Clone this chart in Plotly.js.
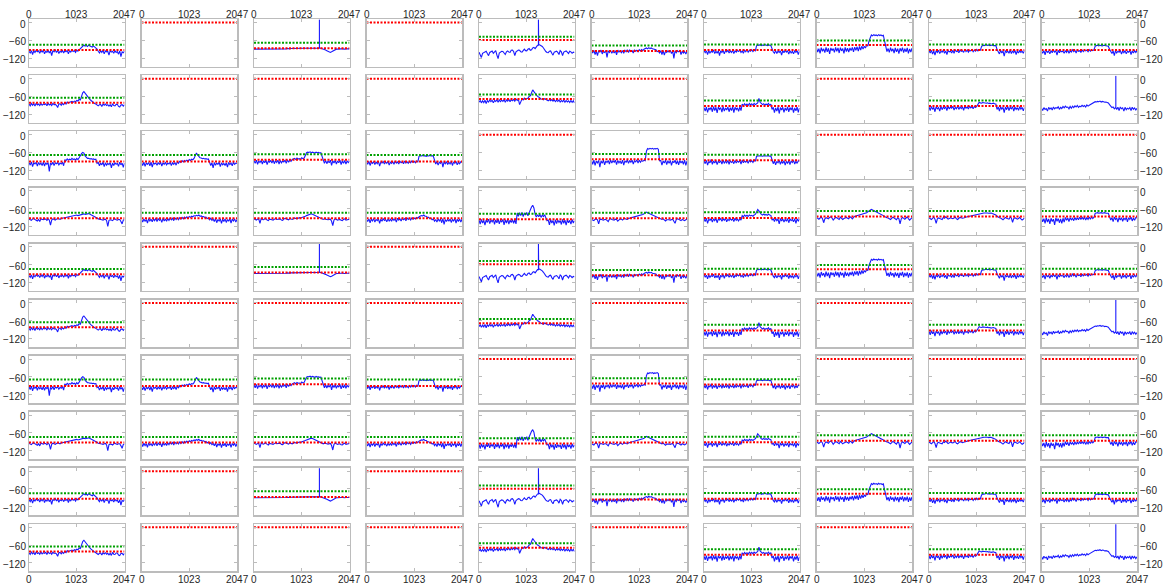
<!DOCTYPE html>
<html>
<head>
<meta charset="utf-8">
<script src="https://cdn.plot.ly/plotly-3.0.1.min.js"></script>
<style>html,body{margin:0;padding:0;background:#fff;}#plot{width:1165px;height:588px;}</style>
</head>
<body>
<div id="plot"></div>
<script>
// ---- sample grid (bins 0..2047) ----
const N_SAMPLES = 81;
const xTicks = [0, 1023, 2047];
const xTickLabels = ['0', '1023', '2047'];
const yTicks = [0, -60, -120];
const yTickLabels = ['0', '\u221260', '\u2212120'];

// ---- row types, repeating down the grid ----
const rowPattern = ['A','B','C','D','A','B','C','D','A','B'];

// ---- blue spectra (dB) ----
const A1 = [-97,-103,-95,-108,-96,-101,-94,-99,-96,-104, -95,-100,-93,-106,-97,-101,-94,-103,-96,-112, -95,-99,-93,-101,-94,-105,-97,-100,-94,-103, -96,-99,-94,-106,-95,-100,-93,-98,-95,-101, -93,-97,-92,-88,-82,-79,-76,-80,-78,-81, -76,-79,-80,-83,-79,-82,-84,-90,-97,-103, -95,-101,-94,-106,-96,-99,-97,-110,-95,-100, -97,-104,-95,-101,-98,-107,-96,-115,-99,-102, -97];
const A3 = [-90,-90,-89,-90,-91,-90,-90,-89,-89,-90, -90,-91,-90,-89,-89,-90,-90,-89,-90,-91, -90,-89,-89,-89,-90,-90,-89,-89,-88,-89, -89,-88,-88,-88,-88,-87,-88,-87,-87,-87, -87,-87,-87,-86,-87,-86,-87,-86,-86,-86, -86,-86,-86,-86,-86,-86,-87,-88,-89,-91, -93,-95,-97,-99,-101,-99,-96,-93,-91,-90, -90,-89,-90,-89,-89,-90,-90,-89,-90,-89, -89];
const A5 = [-100,-108,-118,-104,-102,-99,-97,-105,-112,-101, -99,-96,-104,-97,-95,-110,-122,-103,-100,-97, -98,-104,-108,-99,-96,-100,-101,-94,-93,-98, -112,-99,-97,-93,-94,-99,-100,-93,-90,-95, -96,-90,-88,-94,-92,-86,-84,-88,-80,-77, -74,-76,-78,-81,-86,-94,-98,-101,-102,-97, -96,-104,-110,-100,-99,-97,-101,-108,-95,-99, -112,-100,-98,-96,-100,-105,-97,-99,-104,-100, -101];
const A6 = [-96,-103,-94,-108,-97,-112,-95,-100,-93,-106, -98,-101,-95,-118,-96,-101,-94,-104,-96,-103, -95,-109,-93,-100,-96,-102,-95,-104,-94,-99, -92,-101,-93,-98,-95,-103,-92,-97,-94,-99, -92,-96,-91,-95,-90,-88,-86,-89,-85,-88, -86,-89,-90,-93,-92,-98,-97,-103,-95,-108, -95,-110,-97,-101,-96,-100,-94,-105,-96,-121, -96,-102,-95,-99,-95,-108,-97,-103,-98,-106, -98];
const A7 = [-94,-102,-96,-108,-95,-103,-97,-100,-93,-105, -97,-104,-95,-112,-96,-101,-94,-106,-95,-99, -94,-103,-96,-101,-94,-105,-96,-100,-94,-98, -93,-101,-96,-104,-93,-99,-92,-100,-94,-97, -92,-98,-93,-96,-79,-76,-77,-75,-78,-76, -77,-75,-76,-78,-77,-76,-78,-90,-99,-104, -95,-105,-97,-101,-96,-110,-95,-102,-94,-100, -96,-107,-95,-103,-97,-106,-96,-101,-95,-108, -97];
const A8 = [-86,-100,-88,-104,-85,-97,-89,-102,-84,-99, -87,-106,-86,-95,-88,-101,-84,-97,-86,-103, -85,-96,-88,-104,-84,-98,-87,-100,-86,-95, -84,-99,-83,-94,-82,-97,-81,-93,-80,-90, -80,-86,-76,-80,-62,-48,-42,-45,-41,-44, -42,-45,-41,-44,-42,-45,-43,-62,-84,-98, -88,-101,-85,-97,-89,-103,-86,-99,-88,-105, -87,-97,-85,-102,-88,-99,-86,-104,-89,-100, -87];
const A9 = [-95,-103,-94,-107,-96,-110,-95,-101,-94,-105, -97,-100,-93,-104,-96,-108,-95,-99,-97,-103, -94,-104,-92,-98,-96,-102,-93,-97,-95,-101, -91,-98,-93,-100,-94,-96,-92,-99,-93,-97, -91,-96,-92,-94,-81,-77,-78,-76,-75,-77, -76,-78,-77,-76,-78,-77,-78,-91,-100,-106, -94,-103,-96,-114,-95,-101,-97,-104,-93,-105, -96,-102,-94,-108,-96,-103,-95,-101,-97,-104, -95];
const A10 = [-96,-104,-95,-109,-94,-101,-97,-106,-95,-102, -93,-100,-96,-110,-94,-102,-95,-99,-97,-104, -95,-101,-93,-104,-96,-100,-92,-98,-94,-103, -93,-97,-95,-101,-92,-98,-94,-96,-93,-99, -92,-97,-93,-95,-92,-80,-78,-77,-79,-77, -78,-79,-77,-78,-79,-78,-80,-90,-101,-105, -96,-112,-95,-103,-97,-100,-94,-107,-96,-102, -95,-106,-97,-100,-94,-108,-96,-103,-95,-101, -95];

const B1 = [-86,-92,-84,-90,-85,-93,-83,-89,-86,-91, -84,-90,-86,-88,-85,-92,-83,-89,-86,-91, -84,-88,-87,-90,-98,-86,-85,-90,-84,-88, -82,-86,-79,-82,-80,-78,-77,-80,-76,-78, -74,-76,-70,-72,-56,-48,-44,-50,-52,-58, -64,-70,-74,-78,-82,-84,-86,-90,-92,-88, -87,-94,-86,-90,-86,-91,-88,-93,-88,-95, -85,-91,-92,-87,-87,-94,-96,-89,-88,-93, -88];
const B5 = [-80,-74,-82,-75,-81,-73,-84,-74,-79,-72, -78,-73,-82,-74,-77,-71,-80,-72,-78,-73, -77,-71,-80,-72,-76,-70,-78,-71,-75,-70, -76,-69,-74,-70,-88,-78,-69,-72,-66,-70, -68,-66,-60,-58,-48,-38,-44,-50,-56,-60, -62,-66,-69,-70,-72,-68,-70,-72,-75,-71, -75,-71,-76,-72,-78,-73,-77,-72,-79,-74, -78,-73,-80,-74,-79,-75,-81,-74,-80,-75, -82];
const B7 = [-98,-110,-96,-114,-99,-105,-97,-112,-95,-108, -97,-116,-96,-104,-98,-113,-95,-110,-99,-106, -96,-112,-98,-108,-95,-115,-97,-105,-99,-111, -96,-108,-86,-92,-85,-90,-86,-91,-84,-89, -85,-90,-84,-88,-85,-82,-67,-80,-84,-88, -85,-90,-86,-89,-84,-90,-86,-104,-97,-115, -99,-110,-96,-118,-98,-106,-97,-114,-99,-108, -96,-112,-98,-106,-97,-115,-99,-109,-96,-114, -99];
const B9 = [-96,-108,-94,-104,-97,-112,-95,-102,-98,-110, -94,-105,-96,-101,-95,-108,-93,-103,-96,-100, -94,-106,-97,-102,-93,-104,-96,-101,-95,-107, -94,-100,-96,-103,-93,-99,-95,-102,-94,-98, -94,-85,-80,-82,-83,-81,-82,-84,-83,-82, -84,-83,-85,-84,-83,-85,-86,-104,-96,-110, -95,-103,-97,-115,-96,-105,-94,-108,-97,-102, -95,-110,-96,-104,-98,-107,-95,-103,-97,-109, -97];
const B10 = [-100,-108,-98,-104,-101,-110,-97,-103,-99,-106, -96,-102,-98,-100,-95,-104,-97,-101,-94,-99, -93,-97,-96,-102,-94,-100,-93,-98,-92,-96, -91,-97,-93,-95,-90,-94,-91,-96,-89,-93, -90,-88,-86,-82,-80,-78,-79,-77,-78,-76, -79,-77,-78,-80,-79,-81,-82,-88,-94,-98, -96,-102,-98,-104,-97,-108,-96,-102,-99,-110, -97,-105,-100,-103,-98,-108,-97,-104,-99,-106, -100];

const C1 = [-94,-103,-92,-108,-95,-99,-93,-106,-94,-101, -96,-104,-93,-106,-95,-100,-94,-124,-96,-101, -93,-104,-95,-98,-94,-102,-96,-99,-93,-105, -84,-88,-82,-86,-83,-85,-80,-84,-82,-86, -80,-84,-78,-70,-64,-60,-62,-72,-76,-80, -80,-82,-81,-83,-82,-84,-83,-97,-94,-105, -96,-102,-93,-108,-95,-103,-97,-101,-94,-112, -96,-104,-95,-100,-97,-107,-93,-102,-96,-110, -96];
const C2 = [-95,-104,-93,-107,-96,-100,-94,-105,-93,-110, -95,-99,-96,-103,-94,-101,-93,-106,-95,-100, -94,-102,-96,-99,-93,-104,-95,-100,-94,-103, -92,-97,-90,-94,-88,-92,-87,-90,-86,-89, -84,-87,-83,-85,-80,-72,-62,-68,-74,-78, -79,-81,-80,-82,-81,-83,-82,-96,-104,-95, -112,-94,-103,-96,-100,-93,-108,-95,-102,-97, -104,-95,-110,-94,-101,-96,-105,-93,-100,-96, -97];
const C3 = [-88,-97,-86,-100,-89,-94,-87,-99,-88,-95, -86,-101,-89,-93,-87,-96,-85,-98,-88,-94, -86,-99,-87,-95,-89,-92,-86,-97,-85,-93, -86,-90,-84,-82,-80,-84,-79,-82,-81,-83, -78,-81,-79,-70,-61,-59,-60,-58,-61,-59, -60,-62,-59,-61,-60,-62,-61,-76,-88,-97, -87,-98,-89,-95,-86,-104,-88,-96,-87,-99, -89,-95,-86,-101,-88,-97,-87,-99,-89,-94, -89];
const C4 = [-92,-100,-90,-104,-93,-97,-91,-101,-92,-98, -90,-106,-93,-96,-91,-99,-92,-97,-90,-103, -93,-97,-91,-100,-89,-96,-92,-99,-90,-95, -91,-98,-89,-96,-92,-97,-90,-95,-89,-94, -90,-95,-89,-92,-73,-71,-72,-70,-72,-71, -73,-71,-72,-70,-72,-71,-73,-90,-99,-91, -103,-93,-97,-90,-110,-92,-98,-91,-101,-93, -99,-91,-104,-92,-97,-90,-102,-93,-98,-91, -93];
const C6 = [-88,-100,-86,-104,-89,-95,-87,-110,-88,-97, -86,-102,-89,-94,-87,-99,-85,-96,-88,-93, -86,-101,-87,-95,-89,-98,-86,-103,-88,-94, -85,-97,-87,-93,-86,-99,-88,-92,-85,-96, -86,-93,-87,-90,-86,-88,-56,-47,-49,-46, -48,-46,-49,-47,-48,-46,-49,-88,-87,-103, -89,-96,-86,-101,-88,-97,-87,-104,-89,-95, -86,-99,-88,-102,-87,-96,-89,-100,-86,-104, -89];
const C7 = [-89,-98,-87,-103,-90,-95,-84,-100,-89,-96, -87,-101,-90,-94,-88,-99,-86,-97,-89,-95, -87,-100,-88,-94,-90,-98,-87,-96,-89,-93, -87,-99,-86,-95,-89,-93,-88,-97,-86,-92, -88,-94,-86,-90,-73,-72,-73,-71,-72,-73, -71,-72,-73,-72,-71,-73,-72,-85,-98,-88, -102,-90,-95,-87,-100,-89,-97,-88,-103,-90, -96,-88,-101,-89,-94,-87,-99,-90,-97,-88, -90];

const D1 = [-96,-98,-100,-95,-94,-97,-99,-102,-97,-104, -95,-97,-98,-96,-96,-100,-95,-99,-116,-99, -95,-97,-99,-96,-94,-95,-97,-94,-93,-91, -90,-89,-88,-87,-86,-85,-85,-84,-84,-83, -82,-84,-83,-81,-80,-79,-78,-80,-80,-78, -77,-79,-81,-83,-84,-86,-88,-92,-95,-97, -97,-98,-99,-97,-96,-101,-120,-100,-98,-99, -101,-97,-95,-98,-99,-97,-97,-104,-112,-99, -98];
const D2 = [-96,-106,-95,-103,-97,-109,-94,-102,-96,-105, -95,-101,-93,-104,-94,-100,-96,-107,-93,-102, -95,-103,-94,-100,-92,-98,-93,-101,-91,-97, -92,-98,-91,-96,-90,-95,-89,-93,-88,-92, -87,-90,-86,-88,-84,-86,-83,-85,-82,-86, -85,-88,-87,-90,-89,-94,-91,-98,-93,-100, -96,-104,-94,-108,-97,-102,-95,-110,-96,-104, -95,-107,-97,-103,-94,-109,-96,-102,-95,-106, -97];
const D3 = [-95,-98,-99,-96,-96,-110,-94,-97,-98,-95, -95,-99,-101,-96,-96,-98,-99,-96,-94,-97, -97,-95,-95,-99,-100,-96,-93,-95,-96,-98, -94,-96,-97,-95,-92,-94,-95,-93,-91,-92, -91,-89,-88,-86,-84,-82,-80,-78,-78,-79, -81,-84,-86,-89,-90,-93,-94,-96,-97,-95, -95,-97,-98,-96,-96,-103,-118,-99,-95,-97, -99,-98,-97,-100,-101,-97,-95,-99,-98,-96, -96];
const D4 = [-97,-104,-95,-108,-96,-102,-94,-106,-97,-101, -95,-110,-96,-103,-94,-100,-97,-105,-95,-102, -96,-103,-94,-100,-95,-106,-93,-99,-95,-102, -93,-98,-94,-101,-92,-97,-93,-99,-92,-96, -92,-95,-90,-93,-88,-86,-84,-85,-82,-86, -86,-90,-90,-94,-93,-98,-95,-103,-97,-106, -95,-102,-96,-108,-94,-114,-97,-104,-96,-103, -95,-107,-97,-102,-94,-109,-96,-104,-95,-106, -96];
const D5 = [-99,-113,-97,-109,-100,-116,-98,-107,-96,-111, -99,-105,-97,-114,-98,-108,-96,-112,-99,-106, -97,-115,-98,-109,-96,-113,-99,-107,-97,-110, -98,-112,-75,-86,-74,-84,-73,-87,-75,-82, -73,-85,-74,-62,-55,-49,-58,-80,-89,-81, -88,-80,-90,-82,-87,-81,-89,-101,-99,-115, -97,-109,-100,-117,-98,-111,-99,-107,-101,-114, -97,-110,-99,-116,-98,-108,-100,-113,-97,-109, -101];
const D6 = [-97,-99,-101,-96,-95,-98,-112,-97,-96,-98, -99,-97,-97,-100,-104,-96,-94,-97,-98,-99, -96,-97,-103,-98,-95,-96,-99,-95,-94,-96, -97,-94,-92,-91,-90,-89,-88,-88,-87,-86, -85,-84,-82,-80,-78,-75,-72,-74,-76,-78, -80,-82,-84,-86,-88,-90,-91,-94,-96,-97, -95,-99,-102,-98,-97,-98,-99,-96,-96,-103, -110,-97,-95,-96,-98,-101,-97,-99,-101,-98, -96];
const D7 = [-95,-104,-93,-110,-96,-100,-94,-106,-95,-101, -93,-108,-96,-99,-94,-103,-95,-100,-93,-105, -96,-101,-94,-99,-95,-104,-93,-100,-96,-102, -94,-99,-84,-88,-82,-86,-83,-87,-82,-85, -83,-86,-82,-80,-72,-63,-68,-76,-80,-82, -79,-82,-80,-83,-79,-82,-83,-99,-95,-104, -93,-101,-96,-112,-94,-102,-95,-106,-96,-103, -94,-108,-95,-101,-97,-105,-94,-110,-95,-102, -96];
const D8 = [-90,-93,-96,-92,-89,-94,-108,-95,-91,-93, -95,-90,-88,-92,-99,-94,-90,-91,-94,-97, -89,-92,-97,-94,-91,-90,-93,-95,-88,-90, -95,-89,-86,-85,-84,-83,-82,-81,-80,-79, -78,-76,-74,-71,-68,-65,-63,-65,-67,-69, -70,-72,-74,-76,-78,-81,-84,-87,-90,-91, -92,-95,-97,-93,-89,-92,-95,-98,-91,-94, -112,-95,-90,-93,-96,-92,-88,-94,-99,-95, -91];
const D9 = [-91,-94,-97,-93,-89,-96,-110,-95,-92,-94, -95,-97,-90,-93,-88,-92,-96,-94,-91,-93, -94,-92,-89,-95,-97,-93,-90,-91,-93,-92, -90,-89,-88,-87,-86,-84,-84,-83,-82,-81, -80,-79,-78,-78,-77,-76,-75,-75,-74,-75, -76,-75,-75,-77,-78,-80,-82,-86,-90,-91, -92,-95,-98,-94,-90,-93,-95,-96,-89,-92, -107,-94,-91,-93,-96,-94,-90,-95,-99,-96, -92];
const D10 = [-92,-105,-94,-110,-91,-106,-95,-112,-93,-104, -96,-115,-92,-103,-94,-108,-95,-110,-93,-106, -90,-100,-92,-104,-91,-98,-93,-101,-90,-99, -91,-98,-89,-97,-90,-96,-89,-99,-91,-97, -89,-96,-88,-94,-89,-76,-75,-74,-76,-75, -74,-76,-75,-74,-76,-75,-76,-88,-99,-91, -104,-89,-97,-92,-106,-90,-99,-91,-103,-92, -98,-90,-105,-91,-97,-89,-102,-92,-100,-90, -92];

// ---- per row type, one entry per column ----
const blueA = [A1, null, A3, null, A5, A6, A7, A8, A9, A10];
const blueB = [B1, null, null, null, B5, null, B7, null, B9, B10];
const blueC = [C1, C2, C3, C4, null, C6, C7, null, null, null];
const blueD = [D1, D2, D3, D4, D5, D6, D7, D8, D9, D10];

const greenA = [-75, null, -68, null, -48, -78, -74, -61, -74, -74];
const greenB = [-65, null, null, null, -54, null, -74, null, -74, null];
const greenC = [-69, -69, -66, -69, null, -65, -68, null, null, null];
const greenD = [-74, -74, -74, -74, -78, -74, -73, -68, -68, -68];

const redA = [-93, 0, -87, 0, -59, -96, -93, -76, -93, -93];
const redB = [-82, 0, 0, 0, -69, 0, -93, 0, -93, null];
const redC = [-91, -91, -85, -91, 0, -83, -86, 0, 0, 0];
const redD = [-93, -93, -93, -93, -96, -93, -92, -87, -87, -87];

// spike bin positions (vertical line up to the top)
const spikeA = [null, null, 1402, null, 1274, null, null, null, null, null];
const spikeB = [null, null, null, null, null, null, null, null, null, 1593];
const spikeC = [null, null, null, null, null, null, null, null, null, null];
const spikeD = [null, null, null, null, null, null, null, null, null, null];

const Y_TOP = 11, Y_BOT = -149;

// ---- build ----
const blueBy = {A: blueA, B: blueB, C: blueC, D: blueD};
const greenBy = {A: greenA, B: greenB, C: greenC, D: greenD};
const redBy = {A: redA, B: redB, C: redC, D: redD};
const spikeBy = {A: spikeA, B: spikeB, C: spikeC, D: spikeD};

const xs = Array.from({length: N_SAMPLES}, (_, i) => i * 2047 / (N_SAMPLES - 1));

const W = 1165, H = 588;
const left0 = 29, pitchX = 112.5, pw = 95.5;
const top0 = 19.3, pitchY = 56.08, ph = 47.3;

const traces = [];
const annotations = [];
const FONT = 'Liberation Sans, Arial, Helvetica, sans-serif';
const TICKFONT = {family: FONT, size: 10, color: '#262626'};
const layout = {
  width: W, height: H,
  margin: {l: 0, r: 0, t: 0, b: 0},
  paper_bgcolor: '#fff', plot_bgcolor: '#fff',
  showlegend: false,
  font: {family: FONT, size: 10, color: '#262626'},
  annotations: annotations
};

const axisCommon = {
  showgrid: false, zeroline: false, showline: true, mirror: 'ticks',
  linecolor: '#bcbcbc', linewidth: 1.5,
  ticks: 'inside', ticklen: 3, tickcolor: '#bcbcbc', tickwidth: 1,
  fixedrange: true, showticklabels: false
};

function label(opts) {
  annotations.push(Object.assign({showarrow: false, font: TICKFONT, borderpad: 0, borderwidth: 0}, opts));
}

for (let r = 0; r < 10; r++) {
  const t = rowPattern[r];
  for (let c = 0; c < 10; c++) {
    const k = r * 10 + c + 1;
    const sfx = (k === 1 ? '' : String(k));
    const xa = 'x' + sfx, ya = 'y' + sfx;
    const left = left0 + pitchX * c, top = top0 + pitchY * r;
    const xDom = [left / W, (left + pw) / W];
    const yDom = [1 - (top + ph) / H, 1 - top / H];
    layout['xaxis' + sfx] = Object.assign({}, axisCommon, {
      domain: xDom, anchor: ya, range: [0, 2047],
      tickmode: 'array', tickvals: xTicks
    });
    layout['yaxis' + sfx] = Object.assign({}, axisCommon, {
      domain: yDom, anchor: xa, range: [Y_BOT, Y_TOP],
      tickmode: 'array', tickvals: yTicks
    });

    // tick labels, placed on the axis scales
    if (r === 0 || r === 9) {
      xTicks.forEach((v, i) => label({
        xref: xa, yref: 'paper', x: v, y: r === 0 ? yDom[1] : yDom[0],
        xanchor: 'center', yanchor: 'middle', yshift: r === 0 ? 4.5 : -8.5,
        text: xTickLabels[i]
      }));
    }
    if (c === 0 || c === 9) {
      yTicks.forEach((v, i) => label({
        xref: 'paper', yref: ya, x: c === 0 ? xDom[0] : xDom[1], y: v,
        xanchor: c === 0 ? 'right' : 'left', yanchor: 'middle',
        xshift: c === 0 ? -3 : 3, yshift: -1.5,
        text: yTickLabels[i]
      }));
    }

    const blue = blueBy[t][c];
    if (blue) {
      const bx = xs.slice(), by = blue.slice();
      const sp = spikeBy[t][c];
      if (sp !== null) {
        const idx = bx.findIndex(v => v > sp);
        const base = by[idx - 1];
        bx.splice(idx, 0, sp, sp, sp);
        by.splice(idx, 0, base, Y_TOP - 1, base);
      }
      traces.push({x: bx, y: by, xaxis: xa, yaxis: ya, type: 'scatter', mode: 'lines',
        line: {color: 'rgba(0,0,255,0.9)', width: 1.1}, hoverinfo: 'skip'});
    }
    const red = redBy[t][c];
    if (red !== null) {
      traces.push({x: [0, 2047], y: [red, red], xaxis: xa, yaxis: ya, type: 'scatter', mode: 'lines',
        line: {color: '#ff0000', width: 2, dash: '2px,1.5px'}, hoverinfo: 'skip'});
    }
    const green = greenBy[t][c];
    if (green !== null) {
      traces.push({x: [0, 2047], y: [green, green], xaxis: xa, yaxis: ya, type: 'scatter', mode: 'lines',
        line: {color: '#00a000', width: 2, dash: '2px,1.5px'}, hoverinfo: 'skip'});
    }
  }
}

Plotly.newPlot('plot', traces, layout, {staticPlot: true, displayModeBar: false});
</script>
</body>
</html>
